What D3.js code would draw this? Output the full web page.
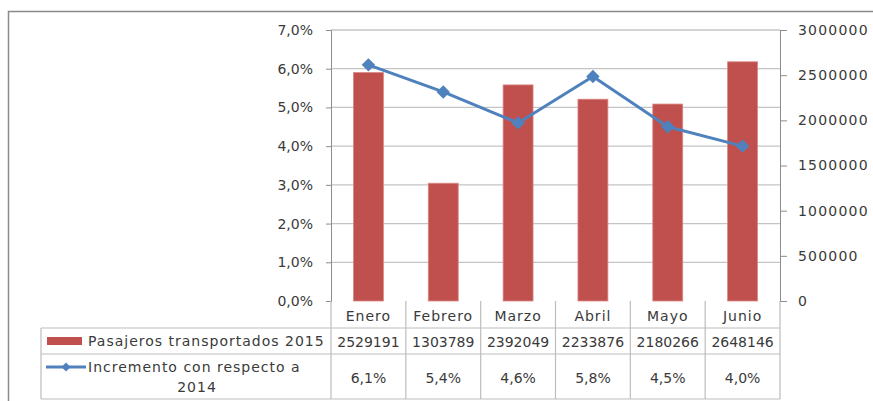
<!DOCTYPE html>
<html>
<head>
<meta charset="utf-8">
<script src="https://cdn.jsdelivr.net/npm/d3@7"></script>
<style>
  html, body { margin: 0; padding: 0; background: #fff; }
  svg { display: block; font-family: "DejaVu Sans", sans-serif; }
</style>
</head>
<body>
<svg id="chart" width="873" height="401"></svg>
<script>
// Chart data
const months = ["Enero", "Febrero", "Marzo", "Abril", "Mayo", "Junio"];
const pasajeros = [2529191, 1303789, 2392049, 2233876, 2180266, 2648146];
const incremento = [6.1, 5.4, 4.6, 5.8, 4.5, 4.0];
const leftTicks = [0, 1, 2, 3, 4, 5, 6, 7];
const rightTicks = [0, 500000, 1000000, 1500000, 2000000, 2500000, 3000000];
const seriesNames = ["Pasajeros transportados 2015", "Incremento con respecto a", "2014"];

const BAR = "#C0504D";
const LINE = "#4F81BD";
const TEXT = "#3a3a3a";
const GRID = "#c4c4c4";
const AXIS = "#8c8c8c";
const FONT = "DejaVu Sans";
const FS = 14;

const svg = d3.select("#chart");

// plot area
const pLeft = 331, pRight = 780, pTop = 30, pBottom = 301;
const row1 = 328, row2 = 354, row3 = 399, tableLeft = 41;

// outer frame
svg.append("rect")
  .attr("x", 8.5).attr("y", 11.5)
  .attr("width", 900).attr("height", 420)
  .attr("fill", "none").attr("stroke", "#8a8a8a").attr("stroke-width", 1.5);

const x = d3.scaleBand().domain(months).range([pLeft, pRight]);
const xBar = d3.scaleBand().domain(months).range([pLeft, pRight])
  .paddingInner(0.6).paddingOuter(0.3);
const yL = d3.scaleLinear().domain([0, 7]).range([pBottom, pTop]);
const yR = d3.scaleLinear().domain([0, 3000000]).range([pBottom, pTop]);

const fmtPct = d => d.toFixed(1).replace(".", ",") + "%";

// gridlines
svg.append("g")
  .selectAll("line")
  .data(leftTicks.slice(1))
  .join("line")
  .attr("x1", pLeft).attr("x2", pRight)
  .attr("y1", d => yL(d)).attr("y2", d => yL(d))
  .attr("stroke", GRID).attr("stroke-width", 1.3);

// left axis
const gL = svg.append("g")
  .attr("transform", `translate(${pLeft},0)`)
  .call(d3.axisLeft(yL).tickValues(leftTicks).tickFormat(fmtPct).tickSize(5).tickPadding(13));
gL.select(".domain").attr("stroke", AXIS);
gL.selectAll(".tick line").attr("stroke", AXIS);
gL.selectAll("text").attr("fill", TEXT).attr("font-size", FS).attr("font-family", FONT);

// right axis
const gR = svg.append("g")
  .attr("transform", `translate(${pRight},0)`)
  .call(d3.axisRight(yR).tickValues(rightTicks).tickFormat(d3.format("d")).tickSize(7).tickPadding(11));
gR.select(".domain").attr("stroke", AXIS);
gR.selectAll(".tick line").attr("stroke", AXIS);
gR.selectAll("text").attr("fill", TEXT).attr("font-size", FS).attr("font-family", FONT)
  .attr("letter-spacing", 1.2);

// bars
svg.append("g")
  .selectAll("rect")
  .data(months)
  .join("rect")
  .attr("x", d => xBar(d))
  .attr("width", xBar.bandwidth())
  .attr("y", (d, i) => yR(pasajeros[i]))
  .attr("height", (d, i) => pBottom - yR(pasajeros[i]))
  .attr("fill", BAR)
  .attr("stroke", "#d98886").attr("stroke-width", 0.8);

// line
const cx = d => x(d) + x.bandwidth() / 2;
svg.append("path")
  .datum(months)
  .attr("fill", "none")
  .attr("stroke", LINE).attr("stroke-width", 3)
  .attr("stroke-linejoin", "round")
  .attr("d", d3.line().x(d => cx(d)).y((d, i) => yL(incremento[i])));

const diamond = d3.symbol(d3.symbolSquare, 90)();
svg.append("g")
  .selectAll("path")
  .data(months)
  .join("path")
  .attr("d", diamond)
  .attr("transform", (d, i) => `translate(${cx(d)},${yL(incremento[i])}) rotate(45)`)
  .attr("fill", LINE);

// data table
const tbl = svg.append("g").attr("stroke", "#bdbdbd").attr("stroke-width", 1.2);
[row1, row2, row3].forEach(yy => {
  tbl.append("line").attr("x1", tableLeft).attr("x2", pRight).attr("y1", yy).attr("y2", yy);
});
tbl.append("line").attr("x1", tableLeft).attr("x2", tableLeft).attr("y1", row1).attr("y2", row3);
months.forEach(m => {
  tbl.append("line").attr("x1", x(m)).attr("x2", x(m)).attr("y1", pBottom).attr("y2", row3);
});
tbl.append("line").attr("x1", pRight).attr("x2", pRight).attr("y1", pBottom).attr("y2", row3);

const txt = svg.append("g").attr("fill", TEXT).attr("font-size", FS).attr("font-family", FONT)
  .attr("text-anchor", "middle").attr("dominant-baseline", "central");

txt.selectAll("text.cat").data(months).join("text").attr("class", "cat")
  .attr("x", d => cx(d)).attr("y", (pBottom + row1) / 2 + 1)
  .attr("letter-spacing", 1).text(d => d);
txt.selectAll("text.pas").data(months).join("text").attr("class", "pas")
  .attr("x", d => cx(d)).attr("y", (row1 + row2) / 2 + 1).text((d, i) => pasajeros[i]);
txt.selectAll("text.inc").data(months).join("text").attr("class", "inc")
  .attr("x", d => cx(d)).attr("y", (row2 + row3) / 2 + 1).text((d, i) => fmtPct(incremento[i]));

// legend keys in table
svg.append("rect").attr("x", 47).attr("y", 337).attr("width", 35).attr("height", 8).attr("fill", BAR);
svg.append("line").attr("x1", 46).attr("x2", 86).attr("y1", 367).attr("y2", 367)
  .attr("stroke", LINE).attr("stroke-width", 3);
svg.append("path").attr("d", d3.symbol(d3.symbolSquare, 40)())
  .attr("transform", "translate(66,367) rotate(45)").attr("fill", LINE);

txt.append("text").attr("x", 88).attr("y", 341).attr("text-anchor", "start")
  .attr("letter-spacing", 1).text(seriesNames[0]);
txt.append("text").attr("x", 88).attr("y", 367).attr("text-anchor", "start")
  .attr("letter-spacing", 1).text(seriesNames[1]);
txt.append("text").attr("x", 197).attr("y", 387)
  .attr("letter-spacing", 1).text(seriesNames[2]);
</script>
</body>
</html>
